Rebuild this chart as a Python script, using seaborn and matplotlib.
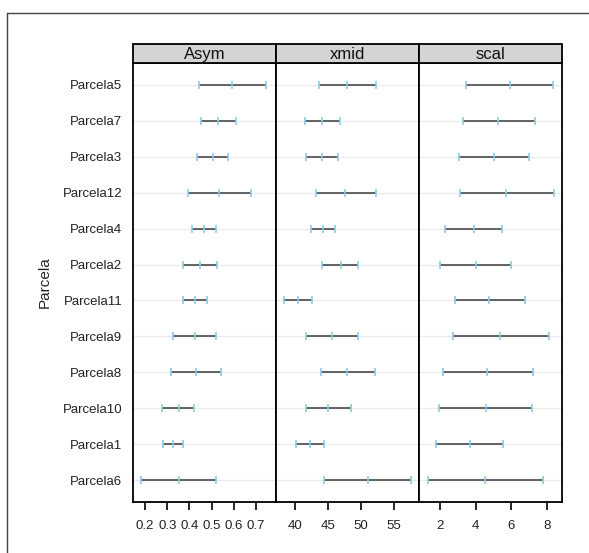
import numpy as np
import pandas as pd
import matplotlib
matplotlib.use("Agg")
import matplotlib.pyplot as plt
import seaborn as sns
from matplotlib.lines import Line2D
from matplotlib.patches import Rectangle

# Grouping levels, top row first
parcelas = ["Parcela5", "Parcela7", "Parcela3", "Parcela12", "Parcela4", "Parcela2",
            "Parcela11", "Parcela9", "Parcela8", "Parcela10", "Parcela1", "Parcela6"]

# 95% intervals per parameter: lower, estimate, upper
asym_lower = [0.443, 0.450, 0.436, 0.392, 0.410, 0.369, 0.372, 0.326, 0.317, 0.277, 0.282, 0.180]
asym_est   = [0.592, 0.530, 0.506, 0.533, 0.466, 0.447, 0.425, 0.425, 0.428, 0.351, 0.327, 0.351]
asym_upper = [0.746, 0.610, 0.575, 0.677, 0.521, 0.526, 0.479, 0.521, 0.544, 0.419, 0.369, 0.518]

xmid_lower = [43.6, 41.4, 41.6, 43.1, 42.3, 44.0, 38.3, 41.6, 43.9, 41.6, 40.05, 44.4]
xmid_est   = [47.9, 44.0, 44.0, 47.6, 44.25, 46.9, 40.35, 45.5, 47.9, 45.0, 42.2, 51.0]
xmid_upper = [52.35, 46.8, 46.5, 52.3, 46.1, 49.5, 42.6, 49.5, 52.1, 48.5, 44.35, 57.6]

scal_lower = [3.46, 3.25, 3.03, 3.10, 2.28, 2.00, 2.80, 2.71, 2.15, 1.93, 1.78, 1.31]
scal_est   = [5.94, 5.26, 5.00, 5.71, 3.91, 4.02, 4.76, 5.36, 4.64, 4.57, 3.67, 4.53]
scal_upper = [8.34, 7.30, 6.96, 8.37, 5.49, 5.99, 6.78, 8.12, 7.19, 7.17, 5.50, 7.77]

params = ["Asym", "xmid", "scal"]
intervals = {
    "Asym": (asym_lower, asym_est, asym_upper),
    "xmid": (xmid_lower, xmid_est, xmid_upper),
    "scal": (scal_lower, scal_est, scal_upper),
}
xticks = {
    "Asym": [0.2, 0.3, 0.4, 0.5, 0.6, 0.7],
    "xmid": [40, 45, 50, 55],
    "scal": [2, 4, 6, 8],
}
xlims = {"Asym": (0.147, 0.791), "xmid": (37.08, 58.89), "scal": (0.82, 8.86)}

sns.set_theme(style="white")
plt.rcParams["font.family"] = ["Liberation Sans", "DejaVu Sans"]

W, H = 589, 553
fig = plt.figure(figsize=(W / 100, H / 100), dpi=100)

left_px, right_px = 133.3, 562.3
top_px, bottom_px = 63.3, 501.7
strip_top_px = 44.3
panel_w = (right_px - left_px) / 3

n = len(parcelas)
ypos = np.arange(n, 0, -1)  # top row gets the largest position

line_col = "#3a3a3a"
tick_col = "#8ccbe6"
grid_col = "#ebebeb"

for i, p in enumerate(params):
    x0 = (left_px + i * panel_w) / W
    ax = fig.add_axes([x0, 1 - bottom_px / H, panel_w / W, (bottom_px - top_px) / H])
    lo, est, hi = intervals[p]
    df = pd.DataFrame({"Parcela": parcelas, "y": ypos,
                       "lower": lo, "est": est, "upper": hi})
    long = df.melt(id_vars=["Parcela", "y"], value_vars=["lower", "est", "upper"],
                   var_name="stat", value_name="value")

    for yv in ypos:
        ax.axhline(yv, color=grid_col, lw=1.0, zorder=0)
    ax.hlines(df["y"], df["lower"], df["upper"], color=line_col, lw=1.1, zorder=2)
    sns.scatterplot(data=long, x="value", y="y", marker="|", s=30, color=tick_col,
                    linewidth=1.2, ax=ax, zorder=3, legend=False)

    ax.set_xlim(*xlims[p])
    ax.set_ylim(0.4, n + 0.6)
    ax.set_xticks(xticks[p])
    ax.set_xticklabels([f"{t:g}" for t in xticks[p]])
    ax.set_xlabel("")
    ax.set_ylabel("")
    ax.tick_params(axis="x", direction="out", length=6, width=1.2, color="black",
                   labelsize=9.5, pad=7, bottom=True, labelcolor="#222222")
    if i == 0:
        ax.set_yticks(ypos)
        ax.set_yticklabels(parcelas)
        ax.tick_params(axis="y", length=0, labelsize=9.5, pad=8, labelcolor="#222222")
    else:
        ax.set_yticks([])
    for s in ax.spines.values():
        s.set_color("black")
        s.set_linewidth(1.3)

    # strip with the parameter name
    strip_h = (top_px - strip_top_px) / (bottom_px - top_px)
    ax.add_patch(Rectangle((0, 1), 1, strip_h, transform=ax.transAxes, clip_on=False,
                           facecolor="#d4d4d4", edgecolor="black", lw=1.3, zorder=5))
    ax.text(0.5, 1 + strip_h / 2 - 0.002, p, transform=ax.transAxes, ha="center",
            va="center", fontsize=12, color="#111111", zorder=6)

fig.text(45 / W, 1 - 282 / H, "Parcela", rotation=90, ha="center", va="center",
         fontsize=11, color="#222222")

# outer frame
fig.add_artist(Line2D([7 / W, 7 / W], [0, 1 - 13 / H], color="#444444", lw=1.0))
fig.add_artist(Line2D([7 / W, 1], [1 - 13 / H, 1 - 13 / H], color="#444444", lw=1.0))

fig.savefig("out.png", dpi=100, facecolor="white")
